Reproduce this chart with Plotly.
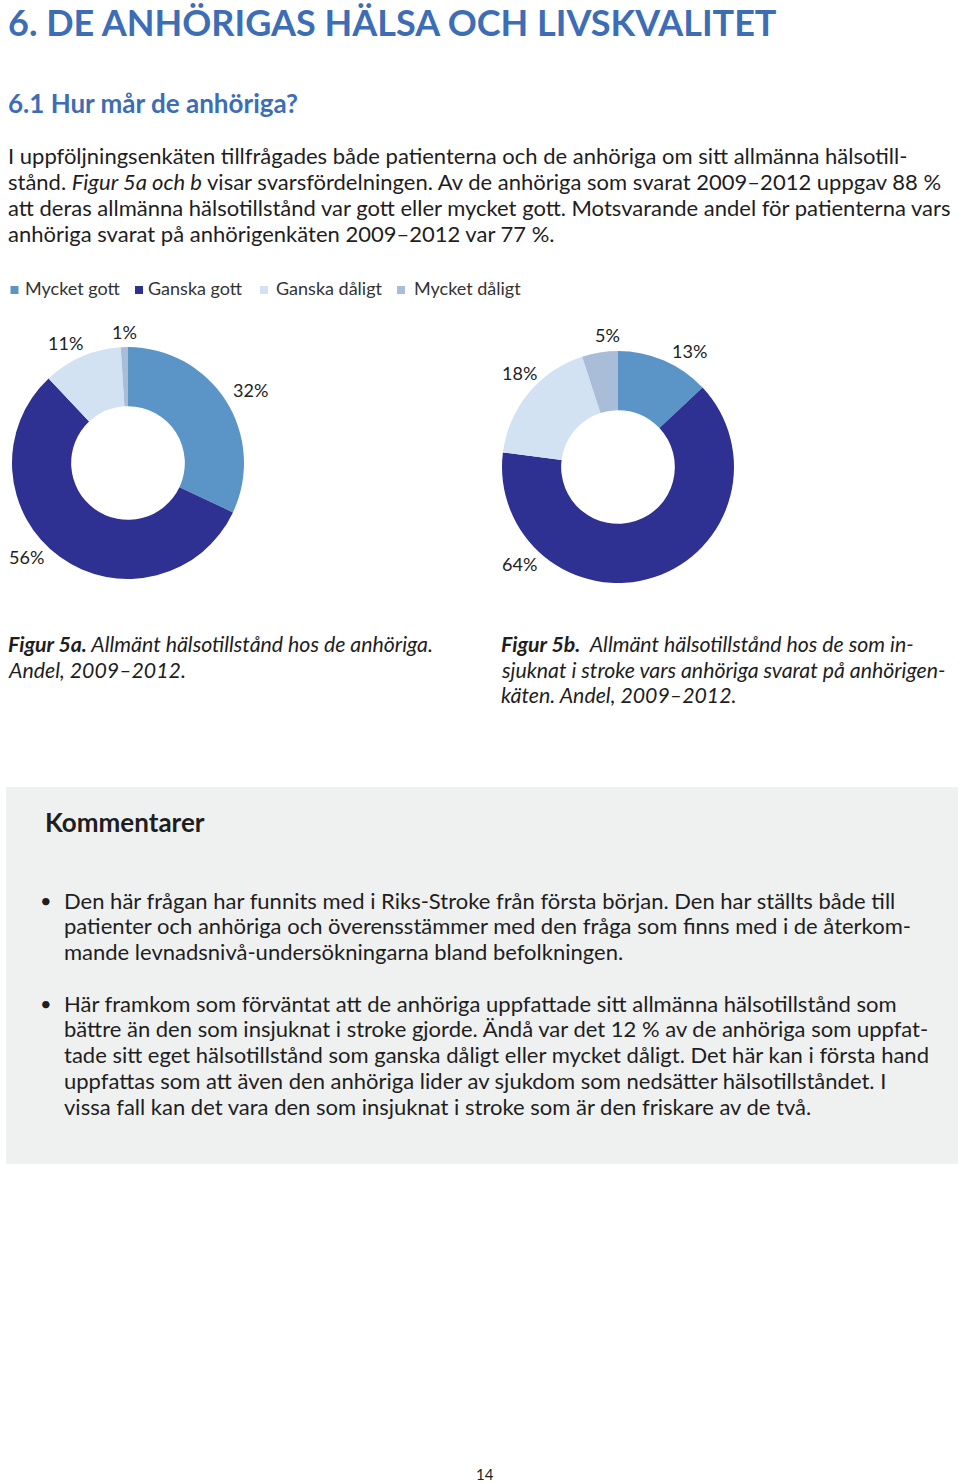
import plotly.graph_objects as go

W, H = 960, 1483

# ---- data ----
categories = ["Mycket gott", "Ganska gott", "Ganska dåligt", "Mycket dåligt"]
colors = ["#5b95c8", "#2e3192", "#d3e2f3", "#a9bdd9"]
values_5a = [32, 56, 11, 1]   # Figur 5a: anhöriga
values_5b = [13, 64, 18, 5]   # Figur 5b: patienter

title = "6. DE ANHÖRIGAS HÄLSA OCH LIVSKVALITET"
subtitle = "6.1 Hur mår de anhöriga?"
intro_lines = [
    "I uppföljningsenkäten tillfrågades både patienterna och de anhöriga om sitt allmänna hälsotill-",
    "stånd. <i>Figur 5a och b</i> visar svarsfördelningen. Av de anhöriga som svarat 2009–2012 uppgav 88 %",
    "att deras allmänna hälsotillstånd var gott eller mycket gott. Motsvarande andel för patienterna vars",
    "anhöriga svarat på anhörigenkäten 2009–2012 var 77 %.",
]
caption_5a = [
    "<b>Figur 5a.</b> Allmänt hälsotillstånd hos de anhöriga.",
    "Andel, 2009–2012.",
]
caption_5b = [
    "<b>Figur 5b.</b>  Allmänt hälsotillstånd hos de som in-",
    "sjuknat i stroke vars anhöriga svarat på anhörigen-",
    "käten. Andel, 2009–2012.",
]
comment_title = "Kommentarer"
bullet1 = [
    "Den här frågan har funnits med i Riks-Stroke från första början. Den har ställts både till",
    "patienter och anhöriga och överensstämmer med den fråga som finns med i de återkom-",
    "mande levnadsnivå-undersökningarna bland befolkningen.",
]
bullet2 = [
    "Här framkom som förväntat att de anhöriga uppfattade sitt allmänna hälsotillstånd som",
    "bättre än den som insjuknat i stroke gjorde. Ändå var det 12 % av de anhöriga som uppfat-",
    "tade sitt eget hälsotillstånd som ganska dåligt eller mycket dåligt. Det här kan i första hand",
    "uppfattas som att även den anhöriga lider av sjukdom som nedsätter hälsotillståndet. I",
    "vissa fall kan det vara den som insjuknat i stroke som är den friskare av de två.",
]
page_number = "14"

# ---- layout (page pixels) ----
label_pos_5a = [(250, 390), (26, 557), (65, 343), (124, 332)]
label_pos_5b = [(689, 351), (519, 564), (519, 373), (607, 335)]
legend_square_x = [10.5, 135, 260, 397]
legend_text_x = [23, 146, 274, 412]


def px(x):
    return x / W


def py(y):
    return 1 - y / H


BODY = "Lato"
TEXT = "#1e1e1e"
BLUE = "#3d6db5"

fig = go.Figure()
ann = []


def text(x, y, s, size, color=TEXT, family=BODY, anchor="left"):
    ann.append(dict(x=px(x), y=py(y), xref="paper", yref="paper", text=s,
                    showarrow=False, xanchor=anchor, yanchor="middle",
                    font=dict(family=family, size=size, color=color)))


def donut(values, cx, cy, r, label_pos):
    fig.add_trace(go.Pie(
        labels=categories, values=values, sort=False, direction="clockwise",
        rotation=0, hole=0.49,
        marker=dict(colors=colors, line=dict(width=0)),
        textinfo="none",
        domain=dict(x=[px(cx - r), px(cx + r)], y=[py(cy + r), py(cy - r)]),
        showlegend=False, hoverinfo="label+percent",
    ))
    for v, (lx, ly) in zip(values, label_pos):
        text(lx, ly, f"{v}%", 18, "#222222", anchor="center")


donut(values_5a, 128, 463, 116, label_pos_5a)
donut(values_5b, 618, 467, 116, label_pos_5b)

# legend
for cat, col, sx, tx in zip(categories, colors, legend_square_x, legend_text_x):
    fig.add_shape(type="rect", xref="paper", yref="paper",
                  x0=px(sx), x1=px(sx + 8), y0=py(294), y1=py(286),
                  fillcolor=col, line=dict(width=0))
    text(tx, 288, cat, 18, "#333333")

text(6, 22, "<b>" + title + "</b>", 36, BLUE)
text(6, 103, "<b>" + subtitle + "</b>", 26, BLUE)
for i, line in enumerate(intro_lines):
    text(6, 156 + i * 25.8, line, 22)
for i, line in enumerate(caption_5a):
    text(6, 644 + i * 25.5, "<i>" + line + "</i>", 21.3)
for i, line in enumerate(caption_5b):
    text(499, 644 + i * 25.5, "<i>" + line + "</i>", 21.3)
text(43, 822, "<b>" + comment_title + "</b>", 26)
for i, line in enumerate(bullet1):
    text(62, 900 + i * 25.8, line, 22)
for i, line in enumerate(bullet2):
    text(62, 1003 + i * 25.8, line, 22)
text(46, 900, "•", 20, anchor="center")
text(46, 1003, "•", 20, anchor="center")
text(485, 1474, page_number, 15, anchor="center")

fig.add_shape(type="rect", xref="paper", yref="paper",
              x0=px(6), x1=px(958), y0=py(1164), y1=py(787),
              fillcolor="#eff0f0", line=dict(width=0), layer="below")

fig.update_layout(
    width=W, height=H, margin=dict(l=0, r=0, t=0, b=0),
    paper_bgcolor="white", plot_bgcolor="white",
    annotations=ann, showlegend=False,
)

fig.write_html("out.html", config={"displayModeBar": False},
               post_script="document.body.style.margin='0';document.body.style.overflow='hidden';")
